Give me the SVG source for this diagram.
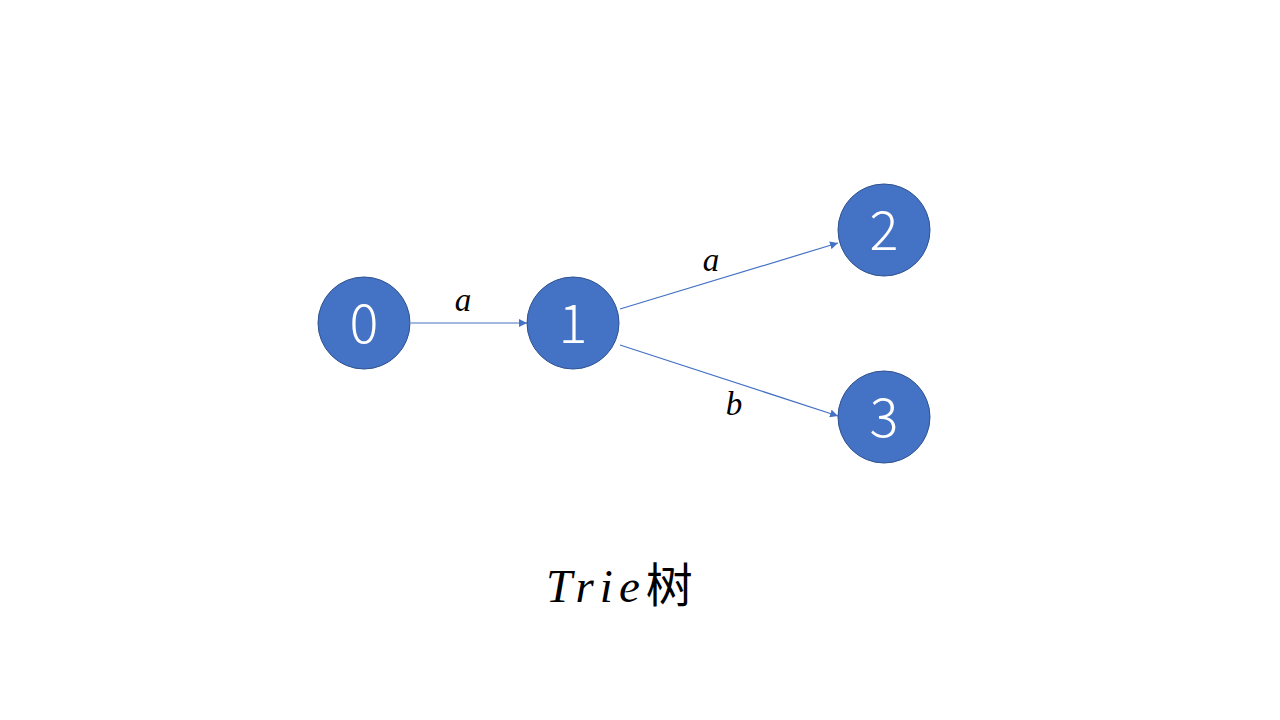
<svg xmlns="http://www.w3.org/2000/svg" width="1280" height="720" viewBox="0 0 1280 720">
<style>
.node circle{fill:#4472C4;stroke:#2F528F;stroke-width:1}
.node text{fill:#fff;font-family:"Noto Sans CJK SC","Noto Sans",sans-serif;font-weight:300;font-size:54px;text-anchor:middle}
.edge{stroke:#4472C4;stroke-width:1.2;fill:none;marker-end:url(#arr)}
.lbl{font-family:"Liberation Serif",serif;font-style:italic;font-size:33px;fill:#000;text-anchor:middle}
</style>
<defs>
<marker id="arr" viewBox="0 0 10 10" refX="10" refY="5" markerWidth="8" markerHeight="8" markerUnits="userSpaceOnUse" orient="auto">
<path d="M0,0L10,5L0,10z" fill="#4472C4"/>
</marker>
</defs>
<rect width="1280" height="720" fill="#fff"/>
<g id="connectors">
<line class="edge" x1="411" y1="323" x2="527" y2="323"/>
<line class="edge" x1="620" y1="309" x2="838" y2="243"/>
<line class="edge" x1="620" y1="345" x2="838" y2="416"/>
<text class="lbl" x="463" y="311">a</text>
<text class="lbl" x="711" y="271">a</text>
<text class="lbl" x="734" y="415">b</text>
</g>
<g id="node0" class="node"><circle cx="364" cy="323" r="46"/><text x="364" y="343">0</text></g>
<g id="node1" class="node"><circle cx="573" cy="323" r="46"/><text x="573" y="343">1</text></g>
<g id="node2" class="node"><circle cx="884" cy="230" r="46"/><text x="884" y="250">2</text></g>
<g id="node3" class="node"><circle cx="884" cy="417" r="46"/><text x="884" y="437">3</text></g>
<text x="546" y="602" style="font-size:47px;fill:#000"><tspan style="font-family:'Liberation Serif',serif;font-style:italic;letter-spacing:6px">Trie</tspan><tspan style="font-family:'Noto Sans CJK SC',sans-serif">树</tspan></text>
</svg>
